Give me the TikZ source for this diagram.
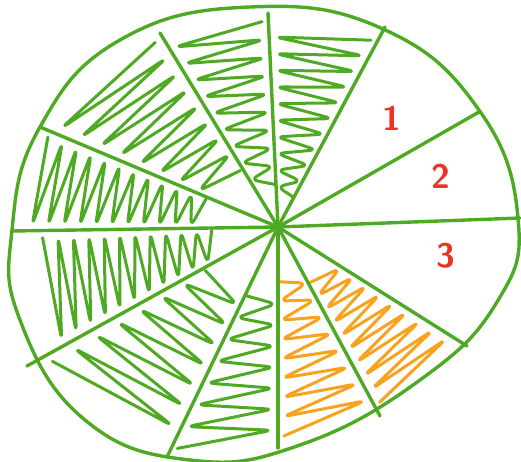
\documentclass[tikz,border=0pt]{standalone}
\usetikzlibrary{calc}
\definecolor{pgreen}{RGB}{78,170,34}
\definecolor{porange}{RGB}{248,162,30}
\definecolor{pred}{RGB}{236,52,36}
\tikzset{
  spoke/.style={draw=pgreen, line width=3.4pt, line cap=round},
  rim/.style={draw=pgreen, line width=3.4pt},
  gzig/.style={draw=pgreen, line width=3pt, rounded corners=7pt, line cap=round, line join=round},
  ozig/.style={draw=porange, line width=3pt, rounded corners=7pt, line cap=round, line join=round},
  numlabel/.style={text=pred, font=\sffamily\bfseries\fontsize{34}{34}\selectfont}
}
\newcommand\zig[6]{%
  \coordinate (ain) at ($(#2)!0.06!(#3)$);
  \coordinate (bin) at ($(#3)!0.06!(#2)$);
  \draw[#1] ($(C)!#4!(ain)$) \foreach \i in {1,...,#6} { -- ($(C)!{#4+(\i-0.5)*#5}!(bin)$) -- ($(C)!{#4+\i*#5}!(ain)$) };
}
\begin{document}
\begin{tikzpicture}[x=1pt,y=-1pt]
\useasboundingbox (0,0) rectangle (521,462);
\coordinate (C) at (278,227);
\coordinate (s1) at (385,27);
\coordinate (s2) at (479,112);
\coordinate (s3) at (520,218);
\coordinate (s4) at (467,346);
\coordinate (s5) at (380,416);
\coordinate (s6) at (278,448);
\coordinate (s7) at (167,457);
\coordinate (s8) at (27,366);
\coordinate (s9) at (12,231);
\coordinate (s10) at (40,127);
\coordinate (s11) at (160,33);
\coordinate (s12) at (268,13);
% hatching
\zig{gzig}{s1}{s12}{0.15}{0.078}{10}
\zig{gzig}{s12}{s11}{0.2}{0.085}{9}
\zig{gzig}{s11}{s10}{0.3}{0.085}{8}
\zig{gzig}{s10}{s9}{0.3}{0.06}{11}
\zig{gzig}{s9}{s8}{0.25}{0.058}{11}
\zig{gzig}{s8}{s7}{0.3}{0.09}{7}
\zig{gzig}{s7}{s6}{0.3}{0.095}{7}
\zig{ozig}{s6}{s5}{0.25}{0.088}{8}
\zig{ozig}{s5}{s4}{0.3}{0.072}{9}
% rim
\draw[rim] plot[smooth cycle, tension=0.75] coordinates {
 (250,7) (383,29) (479,110) (518,218) (497,302)
 (420,380) (300,445) (190,460)
 (85,420) (20,320) (12,230) (40,127) (120,40)};
% spokes
\foreach \s in {s1,s2,s3,s4,s5,s6,s7,s8,s9,s10,s11,s12}
  \draw[spoke] (C) -- (\s);
% labels
\node[numlabel] (l1) at (392,118) {1};
\node[numlabel] (l2) at (441,176) {2};
\node[numlabel] (l3) at (446,256) {3};
\end{tikzpicture}
\end{document}
